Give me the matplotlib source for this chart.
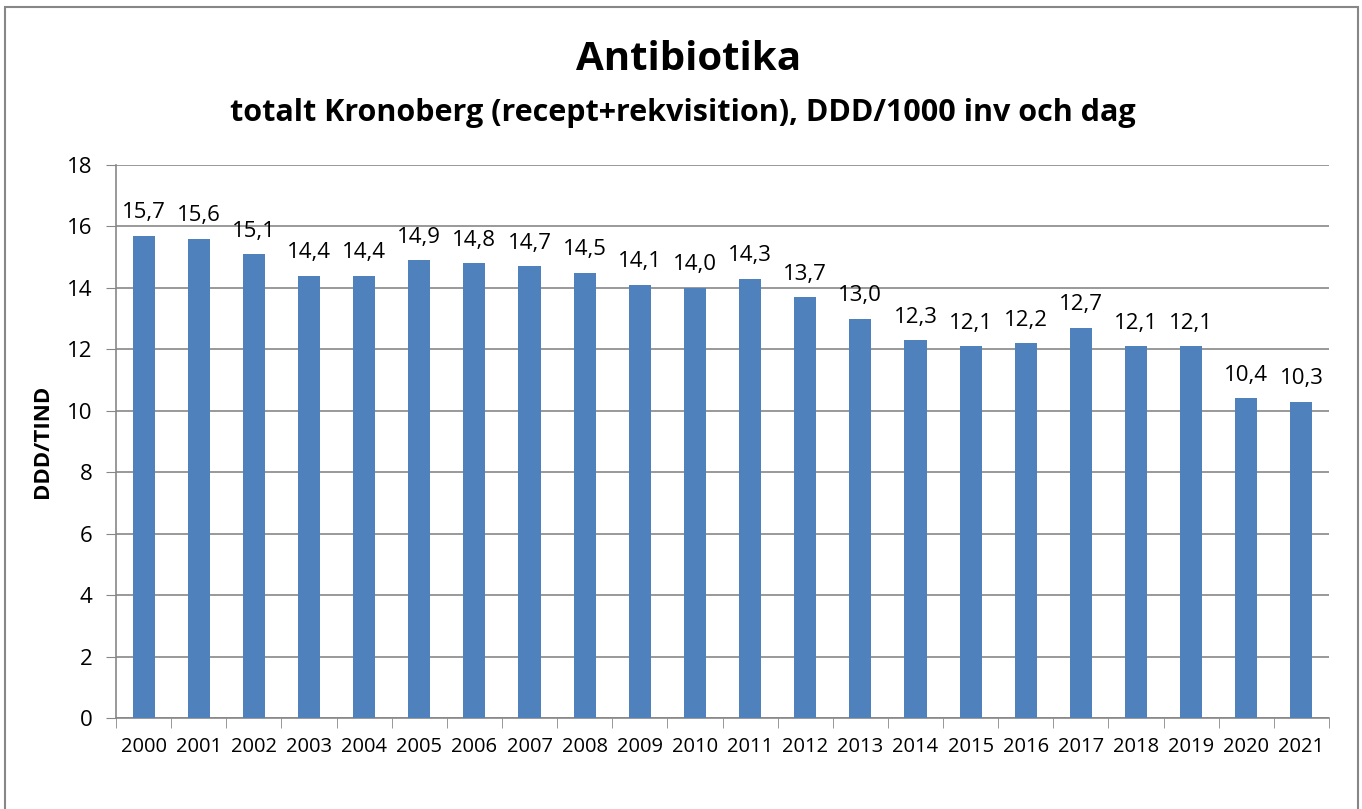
import matplotlib
matplotlib.use("Agg")
import matplotlib.pyplot as plt
from matplotlib.patches import Rectangle
import numpy as np

years = [str(y) for y in range(2000, 2022)]
values = [15.7, 15.6, 15.1, 14.4, 14.4, 14.9, 14.8, 14.7, 14.5, 14.1, 14.0,
          14.3, 13.7, 13.0, 12.3, 12.1, 12.2, 12.7, 12.1, 12.1, 10.4, 10.3]
yticks = [0, 2, 4, 6, 8, 10, 12, 14, 16, 18]

plt.rcParams["font.family"] = ["Open Sans", "DejaVu Sans"]

W, H = 1362, 809
fig = plt.figure(figsize=(W / 100, H / 100), dpi=100)
ax = fig.add_axes([116 / W, 1 - 718 / H, (1329 - 116) / W, (718 - 165) / H])

# outer chart border
fig.patches.append(Rectangle((5 / W, -0.05), (1358 - 5) / W, 1.05 - 7 / H,
                             transform=fig.transFigure, fill=False,
                             edgecolor="#878787", linewidth=1.5))

x = np.arange(len(years))
ax.bar(x, values, width=0.4, color="#4F81BD", zorder=3)
for xi, v in zip(x, values):
    ax.annotate(f"{v:.1f}".replace(".", ","), (xi, v), xytext=(0, 9),
                textcoords="offset points", ha="center", va="bottom", fontsize=16)

ax.set_xlim(-0.5, len(years) - 0.5)
ax.set_ylim(0, 18)
ax.set_yticks(yticks)
ax.set_yticklabels([str(t) for t in yticks], fontsize=16)
ax.set_xticks(x)
ax.set_xticklabels(years, fontsize=14.5)
ax.tick_params(axis="x", length=0, pad=14)
ax.set_xticks(np.arange(-0.5, len(years)), minor=True)
ax.tick_params(axis="x", which="minor", length=7, color="#878787")
ax.tick_params(axis="y", length=7, color="#878787", pad=10)
ax.yaxis.grid(True, color="#878787", linewidth=1.2, zorder=0)

for side in ["top", "right"]:
    ax.spines[side].set_visible(False)
for side in ["left", "bottom"]:
    ax.spines[side].set_color("#878787")
    ax.spines[side].set_linewidth(1.2)

ax.set_ylabel("DDD/TIND", fontsize=16, fontweight="bold")
ax.yaxis.set_label_coords(-0.052, 0.5)

fig.text(689 / W, 1 - 60 / H, "Antibiotika", ha="center", va="center",
         fontsize=29, fontweight="bold")
fig.text(683 / W, 1 - 113 / H, "totalt Kronoberg (recept+rekvisition), DDD/1000 inv och dag",
         ha="center", va="center", fontsize=22, fontweight="bold")

fig.savefig("out.png", dpi=100)
